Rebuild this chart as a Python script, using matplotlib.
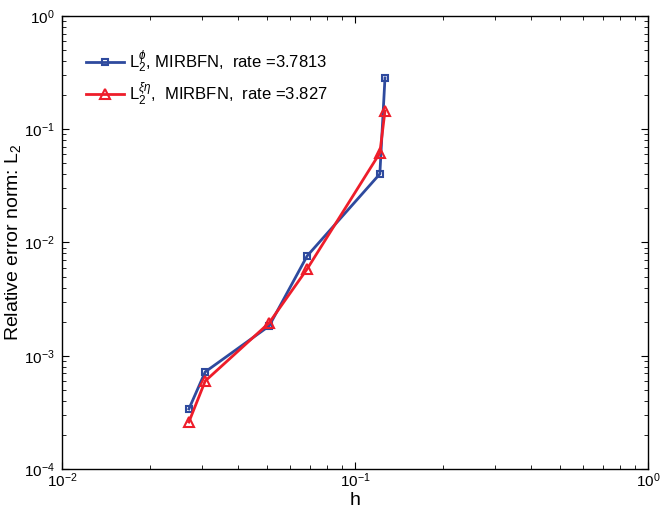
import matplotlib
matplotlib.use("Agg")
import matplotlib.pyplot as plt

plt.rcParams["font.family"] = ["Liberation Sans", "DejaVu Sans"]
plt.rcParams["mathtext.fontset"] = "custom"
plt.rcParams["mathtext.rm"] = "Liberation Sans"
plt.rcParams["mathtext.it"] = "Liberation Sans:italic"

# data
h = [0.0271, 0.0308, 0.0509, 0.0686, 0.1215, 0.1265]
err_phi = [3.39e-4, 7.2e-4, 1.83e-3, 7.6e-3, 0.0403, 0.284]
err_xieta = [2.6e-4, 5.98e-4, 1.95e-3, 5.83e-3, 0.0617, 0.145]
labels = [r"L$_2^{\phi}$, MIRBFN,  rate =3.7813",
          r"L$_2^{\xi\eta}$,  MIRBFN,  rate =3.827"]

BLUE = "#2E4A9E"
RED = "#EE1D2A"

fig = plt.figure(figsize=(6.62, 5.09), dpi=100)
ax = fig.add_axes([0.0937, 0.0786, 0.8853, 0.89])

ax.loglog(h, err_phi, "-s", color=BLUE, lw=2, ms=5, mfc="none", mew=1.5,
          label=labels[0])
ax.loglog(h, err_xieta, "-^", color=RED, lw=2, ms=7, mfc="none", mew=1.5,
          label=labels[1])

ax.set_xlim(1e-2, 1e0)
ax.set_ylim(1e-4, 1e0)
ax.tick_params(which="both", direction="in", top=True, right=True,
               labelsize=11)
ax.tick_params(axis="x", pad=2)
ax.tick_params(axis="y", pad=5)
ax.tick_params(which="major", length=5)
ax.tick_params(which="minor", length=3)
for s in ax.spines.values():
    s.set_linewidth(1.0)

fig.canvas.draw()
# lift the bottom-left y label a little so it clears the x label (as in MATLAB)
ylabs = ax.get_yticklabels()
ylabs[0].set_va("bottom")

ax.set_xlabel("h", fontsize=14, labelpad=1)
ax.set_ylabel(r"Relative error norm: L$_2$", fontsize=14, labelpad=1)

ax.legend(loc="upper left", frameon=False, fontsize=12,
          bbox_to_anchor=(0.015, 0.96), handlelength=2.3, handletextpad=0.3,
          labelspacing=0.3)

fig.savefig("out.png", dpi=100)
